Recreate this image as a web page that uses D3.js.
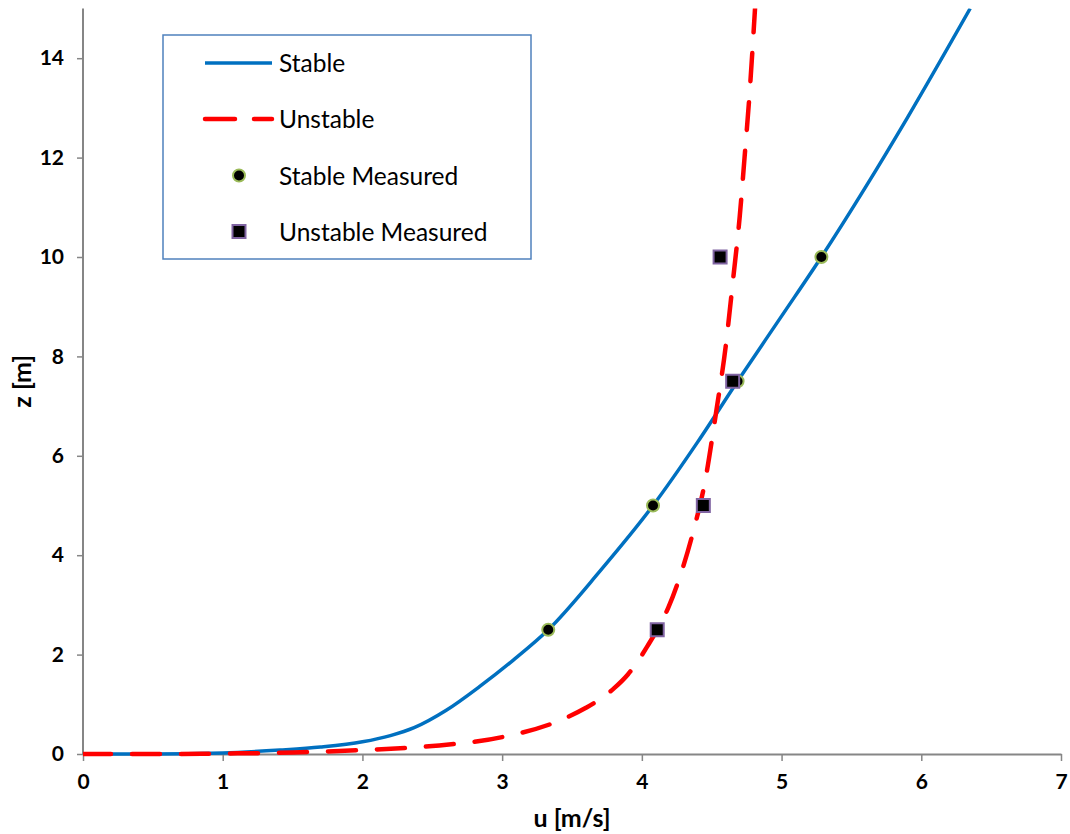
<!DOCTYPE html>
<html>
<head>
<meta charset="utf-8">
<script src="https://cdn.jsdelivr.net/npm/d3@7"></script>
<style>
  body { margin: 0; background: #fff; }
  svg { display: block; }
  text { font-family: Lato, "Open Sans", sans-serif; fill: #000; }
</style>
</head>
<body>
<div id="chart"></div>
<script>
// ---- data ----
const stableU = [0, 0.5, 1.0, 1.41, 1.7, 2.0, 2.2, 2.37, 2.6, 2.84, 3.08, 3.33, 3.7, 4.08, 4.4, 4.685, 5.0, 5.285, 5.6, 5.9, 6.35];
const stableZ = [0, 0.0, 0.02, 0.08, 0.14, 0.245, 0.37, 0.53, 0.88, 1.36, 1.89, 2.5, 3.68, 5.0, 6.28, 7.5, 8.81, 10.0, 11.4, 12.8, 15.0];

const unstableU = [0, 0.5, 1.0, 1.5, 2.0, 2.5, 3.0, 3.4, 3.6, 3.7, 3.8, 3.9, 3.97, 4.04, 4.11, 4.19, 4.27, 4.37, 4.45, 4.53, 4.6, 4.655, 4.70, 4.735, 4.77, 4.81];
const unstableZ = [0, 0.0, 0.01, 0.03, 0.08, 0.16, 0.34, 0.66, 0.93, 1.1, 1.32, 1.6, 1.86, 2.17, 2.5, 2.95, 3.55, 4.5, 5.45, 6.85, 8.2, 9.6, 10.8, 12.0, 13.25, 15.0];

const stableMeasU = [3.33, 4.08, 4.685, 5.285];
const stableMeasZ = [2.5, 5, 7.5, 10];
const unstableMeasU = [4.11, 4.44, 4.65, 4.56];
const unstableMeasZ = [2.5, 5, 7.5, 10];

const xTicks = [0, 1, 2, 3, 4, 5, 6, 7];
const yTicks = [0, 2, 4, 6, 8, 10, 12, 14];
const legendLabels = ["Stable", "Unstable", "Stable Measured", "Unstable Measured"];

// ---- layout ----
const W = 1070, H = 834;
const plot = { left: 83, right: 1061, top: 8.5, bottom: 754 };

const svg = d3.select("#chart").append("svg").attr("width", W).attr("height", H);

const x = d3.scaleLinear().domain([0, 7]).range([plot.left, plot.right]);
const y = d3.scaleLinear().domain([0, 15]).range([plot.bottom, plot.top]);

const axisColor = "#868686";

// axes
const xAxis = svg.append("g").attr("transform", `translate(0,${plot.bottom})`)
  .call(d3.axisBottom(x).tickValues(xTicks).tickSize(7).tickSizeOuter(0).tickPadding(13).tickFormat(d3.format("d")));
const yAxis = svg.append("g").attr("transform", `translate(${plot.left},0)`)
  .call(d3.axisLeft(y).tickValues(yTicks).tickSize(6).tickSizeOuter(0).tickPadding(13).tickFormat(d3.format("d")));
[xAxis, yAxis].forEach(a => {
  a.select(".domain").attr("stroke", axisColor).attr("stroke-width", 2);
  a.selectAll(".tick line").attr("stroke", axisColor).attr("stroke-width", 1.5);
  a.selectAll(".tick text").attr("font-size", 21).attr("font-weight", "bold")
    .attr("font-family", "Lato, 'Open Sans', sans-serif").attr("fill", "#000");
});
yAxis.select(".domain").attr("d", `M0,${plot.bottom}V${plot.top}`);

// axis titles
svg.append("text").attr("x", (plot.left + plot.right) / 2).attr("y", 827)
  .attr("text-anchor", "middle").attr("font-size", 25).attr("font-weight", "bold").text("u [m/s]");
svg.append("text").attr("transform", `translate(31,${(plot.top + plot.bottom) / 2}) rotate(-90)`)
  .attr("text-anchor", "middle").attr("font-size", 25).attr("font-weight", "bold").text("z [m]");

// clip
svg.append("clipPath").attr("id", "clip").append("rect")
  .attr("x", plot.left).attr("y", plot.top).attr("width", plot.right - plot.left + 10).attr("height", plot.bottom - plot.top + 5);

const line = d3.line().x(d => x(d[0])).y(d => y(d[1])).curve(d3.curveMonotoneX);
const stableData = stableU.map((u, i) => [u, stableZ[i]]);
const unstableData = unstableU.map((u, i) => [u, unstableZ[i]]);

const g = svg.append("g").attr("clip-path", "url(#clip)");
g.append("path").datum(stableData).attr("d", line)
  .attr("fill", "none").attr("stroke", "#0070c0").attr("stroke-width", 3.5);
g.append("path").datum(unstableData).attr("d", line)
  .attr("fill", "none").attr("stroke", "#ff0000").attr("stroke-width", 4.5)
  .attr("stroke-dasharray", "28 21").attr("stroke-linecap", "round");

// markers
svg.append("g").selectAll("circle").data(stableMeasU.map((u, i) => [u, stableMeasZ[i]])).join("circle")
  .attr("cx", d => x(d[0])).attr("cy", d => y(d[1])).attr("r", 6)
  .attr("fill", "#000").attr("stroke", "#9bbb59").attr("stroke-width", 2);
svg.append("g").selectAll("rect").data(unstableMeasU.map((u, i) => [u, unstableMeasZ[i]])).join("rect")
  .attr("x", d => x(d[0]) - 6.5).attr("y", d => y(d[1]) - 6.5).attr("width", 13).attr("height", 13)
  .attr("fill", "#000").attr("stroke", "#8064a2").attr("stroke-width", 2);

// legend
const lg = svg.append("g");
lg.append("rect").attr("x", 163).attr("y", 35).attr("width", 368).attr("height", 224)
  .attr("fill", "#fff").attr("stroke", "#4f81bd").attr("stroke-width", 1.5);
const rowY = [63, 119, 175.5, 231.5];
lg.append("line").attr("x1", 205).attr("x2", 272).attr("y1", rowY[0]).attr("y2", rowY[0])
  .attr("stroke", "#0070c0").attr("stroke-width", 3.5);
lg.append("line").attr("x1", 205).attr("x2", 272).attr("y1", rowY[1]).attr("y2", rowY[1])
  .attr("stroke", "#ff0000").attr("stroke-width", 4.5).attr("stroke-dasharray", "30 19").attr("stroke-linecap", "round");
lg.append("circle").attr("cx", 239).attr("cy", rowY[2]).attr("r", 6)
  .attr("fill", "#000").attr("stroke", "#9bbb59").attr("stroke-width", 2);
lg.append("rect").attr("x", 232.5).attr("y", rowY[3] - 6.5).attr("width", 13).attr("height", 13)
  .attr("fill", "#000").attr("stroke", "#8064a2").attr("stroke-width", 2);
lg.selectAll("text.lbl").data(legendLabels).join("text").attr("class", "lbl")
  .attr("x", 279).attr("y", (d, i) => rowY[i] + 9).attr("font-size", 24.5).text(d => d);
</script>
</body>
</html>
